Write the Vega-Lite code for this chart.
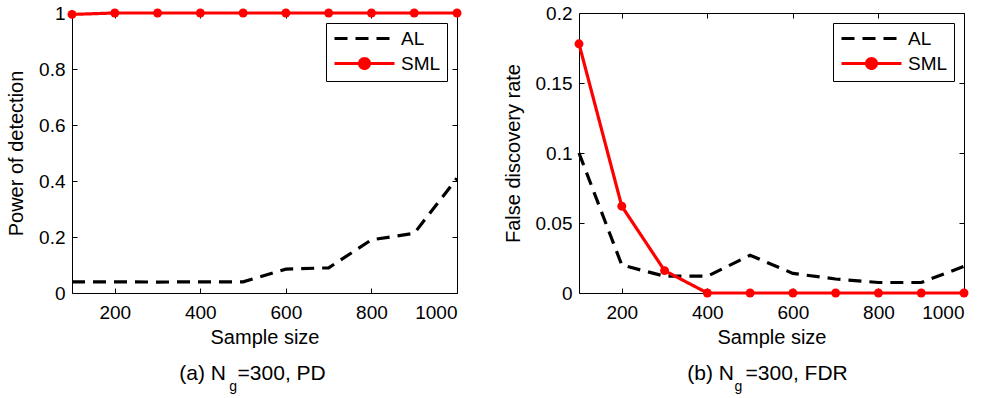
{
  "$schema": "https://vega.github.io/schema/vega-lite/v6.json",
  "padding": {"left": 6, "top": 3, "right": 0, "bottom": 0},
  "spacing": 38,
  "datasets": {
    "pd": [
      {"n": 100, "method": "AL", "v": 0.04}, {"n": 200, "method": "AL", "v": 0.04}, {"n": 300, "method": "AL", "v": 0.039},
      {"n": 400, "method": "AL", "v": 0.04}, {"n": 500, "method": "AL", "v": 0.04}, {"n": 600, "method": "AL", "v": 0.085},
      {"n": 700, "method": "AL", "v": 0.09}, {"n": 800, "method": "AL", "v": 0.19}, {"n": 900, "method": "AL", "v": 0.213},
      {"n": 1000, "method": "AL", "v": 0.41},
      {"n": 100, "method": "SML", "v": 0.995}, {"n": 200, "method": "SML", "v": 1}, {"n": 300, "method": "SML", "v": 1},
      {"n": 400, "method": "SML", "v": 1}, {"n": 500, "method": "SML", "v": 1}, {"n": 600, "method": "SML", "v": 1},
      {"n": 700, "method": "SML", "v": 1}, {"n": 800, "method": "SML", "v": 1}, {"n": 900, "method": "SML", "v": 1},
      {"n": 1000, "method": "SML", "v": 1}
    ],
    "fdr": [
      {"n": 100, "method": "AL", "v": 0.1}, {"n": 200, "method": "AL", "v": 0.02}, {"n": 300, "method": "AL", "v": 0.012},
      {"n": 400, "method": "AL", "v": 0.012}, {"n": 500, "method": "AL", "v": 0.027}, {"n": 600, "method": "AL", "v": 0.014},
      {"n": 700, "method": "AL", "v": 0.01}, {"n": 800, "method": "AL", "v": 0.0075}, {"n": 900, "method": "AL", "v": 0.0075},
      {"n": 1000, "method": "AL", "v": 0.019},
      {"n": 100, "method": "SML", "v": 0.178}, {"n": 200, "method": "SML", "v": 0.062}, {"n": 300, "method": "SML", "v": 0.016},
      {"n": 400, "method": "SML", "v": 0}, {"n": 500, "method": "SML", "v": 0}, {"n": 600, "method": "SML", "v": 0},
      {"n": 700, "method": "SML", "v": 0}, {"n": 800, "method": "SML", "v": 0}, {"n": 900, "method": "SML", "v": 0},
      {"n": 1000, "method": "SML", "v": 0}
    ]
  },
  "hconcat": [
    {
      "width": 385, "height": 280,
      "data": {"name": "pd"},
      "title": {"text": "(a) N\u00a0\u00a0=300, PD", "subtitle": "g\u00a0\u00a0\u00a0\u00a0\u00a0\u00a0\u00a0\u00a0\u00a0\u00a0\u200b", "dx": -12},
      "layer": [
        {
          "mark": {"type": "line", "strokeWidth": 3.2, "clip": false, "strokeCap": "butt"},
          "encoding": {
            "x": {"field": "n", "type": "quantitative", "scale": {"domain": [100, 1000], "nice": false, "zero": false},
                  "axis": {"title": "Sample size", "values": [200, 400, 600, 800, 1000], "format": "d"}},
            "y": {"field": "v", "type": "quantitative", "scale": {"domain": [0, 1], "nice": false},
                  "axis": {"title": "Power of detection", "values": [0, 0.2, 0.4, 0.6, 0.8, 1], "format": "~g"}},
            "color": {"field": "method", "type": "nominal", "scale": {"domain": ["AL", "SML"], "range": ["#000000", "#ff0000"]},
                      "legend": {"title": null, "orient": "top-right", "offset": 10,
                        "encode": {"symbols": {"update": {
                          "shape": {"signal": "datum.value === 'SML' ? 'M-1,0H7.57M2.57,0A0.714,0.714,0,1,0,4,0A0.714,0.714,0,1,0,2.57,0Z' : 'M-1,0H7.57'"},
                          "fill": {"signal": "datum.value === 'SML' ? '#ff0000' : 'transparent'"}}}}}},
            "strokeDash": {"field": "method", "type": "nominal", "scale": {"domain": ["AL", "SML"], "range": [[13, 8], [1, 0]]}, "legend": {"title": null, "orient": "top-right", "offset": 10}}
          }
        },
        {
          "transform": [{"filter": "datum.method === 'SML'"}],
          "mark": {"type": "point", "filled": true, "color": "#ff0000", "size": 80, "opacity": 1, "clip": false},
          "encoding": {
            "x": {"field": "n", "type": "quantitative", "axis": {"orient": "top", "labels": false, "title": null, "values": [200, 400, 600, 800, 1000]}},
            "y": {"field": "v", "type": "quantitative", "axis": {"orient": "right", "labels": false, "title": null, "values": [0, 0.2, 0.4, 0.6, 0.8, 1]}}
          }
        }
      ],
      "resolve": {"axis": {"x": "independent", "y": "independent"}}
    },
    {
      "width": 385, "height": 280,
      "data": {"name": "fdr"},
      "title": {"text": "(b) N\u00a0\u00a0=300, FDR", "subtitle": "g\u00a0\u00a0\u00a0\u00a0\u00a0\u00a0\u00a0\u00a0\u00a0\u00a0\u00a0\u00a0\u00a0\u00a0\u00a0\u200b", "dx": -4},
      "layer": [
        {
          "mark": {"type": "line", "strokeWidth": 3.2, "clip": false, "strokeCap": "butt"},
          "encoding": {
            "x": {"field": "n", "type": "quantitative", "scale": {"domain": [100, 1000], "nice": false, "zero": false},
                  "axis": {"title": "Sample size", "values": [200, 400, 600, 800, 1000], "format": "d"}},
            "y": {"field": "v", "type": "quantitative", "scale": {"domain": [0, 0.2], "nice": false},
                  "axis": {"title": "False discovery rate", "values": [0, 0.05, 0.1, 0.15, 0.2], "format": "~g"}},
            "color": {"field": "method", "type": "nominal", "scale": {"domain": ["AL", "SML"], "range": ["#000000", "#ff0000"]},
                      "legend": {"title": null, "orient": "top-right", "offset": 10,
                        "encode": {"symbols": {"update": {
                          "shape": {"signal": "datum.value === 'SML' ? 'M-1,0H7.57M2.57,0A0.714,0.714,0,1,0,4,0A0.714,0.714,0,1,0,2.57,0Z' : 'M-1,0H7.57'"},
                          "fill": {"signal": "datum.value === 'SML' ? '#ff0000' : 'transparent'"}}}}}},
            "strokeDash": {"field": "method", "type": "nominal", "scale": {"domain": ["AL", "SML"], "range": [[13, 8], [1, 0]]}, "legend": {"title": null, "orient": "top-right", "offset": 10}}
          }
        },
        {
          "transform": [{"filter": "datum.method === 'SML'"}],
          "mark": {"type": "point", "filled": true, "color": "#ff0000", "size": 80, "opacity": 1, "clip": false},
          "encoding": {
            "x": {"field": "n", "type": "quantitative", "axis": {"orient": "top", "labels": false, "title": null, "values": [200, 400, 600, 800, 1000]}},
            "y": {"field": "v", "type": "quantitative", "axis": {"orient": "right", "labels": false, "title": null, "values": [0, 0.05, 0.1, 0.15, 0.2]}}
          }
        }
      ],
      "resolve": {"axis": {"x": "independent", "y": "independent"}}
    }
  ],
  "resolve": {"scale": {"color": "independent", "strokeDash": "independent"}},
  "config": {
    "font": "Liberation Sans",
    "view": {"stroke": "#000000", "strokeWidth": 1},
    "axis": {
      "grid": false, "domain": false, "tickColor": "#000000", "tickSize": -5, "tickWidth": 1,
      "labelFontSize": 19, "titleFontSize": 20, "titleFontWeight": "normal",
      "labelColor": "#000000", "titleColor": "#000000", "labelPadding": 15, "titlePadding": 5
    },
    "axisY": {"titlePadding": 12, "labelPadding": 12},
    "legend": {
      "labelFontSize": 19, "labelColor": "#000000", "strokeColor": "#000000", "fillColor": "#ffffff",
      "padding": 6, "symbolSize": 196, "symbolStrokeWidth": 3, "labelOffset": 50, "rowPadding": 3
    },
    "title": {
      "orient": "bottom", "anchor": "middle", "frame": "group", "fontSize": 21, "fontWeight": "normal", "color": "#000000",
      "offset": 16, "subtitleFontSize": 14, "subtitleColor": "#000000", "subtitlePadding": -4
    }
  }
}
